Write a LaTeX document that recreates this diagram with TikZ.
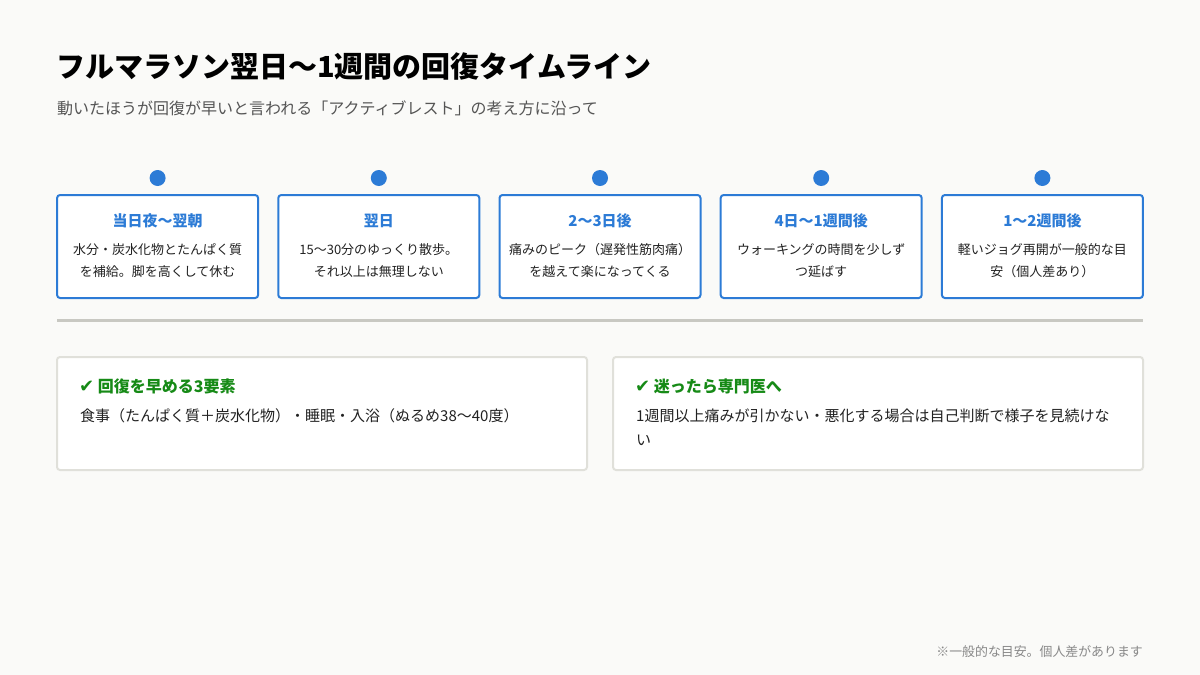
\documentclass[tikz,border=0pt]{standalone}
\usepackage{fontspec}
\setmainfont{Noto Sans CJK JP}
\newfontfamily\jp{Noto Sans CJK JP}
\newfontfamily\sym{DejaVu Sans}
\definecolor{bg}{HTML}{FAFAF8}
\definecolor{blue}{HTML}{2C7BD6}
\definecolor{ink}{HTML}{222222}
\definecolor{sub}{HTML}{555555}
\definecolor{foot}{HTML}{888888}
\definecolor{rule}{HTML}{C8C8C2}
\definecolor{cardline}{HTML}{E0E0DA}
\definecolor{okgreen}{HTML}{168A16}
\tikzset{
  dot/.style={circle,fill=blue,inner sep=0pt,minimum size=16pt},
  tbox/.style={rectangle,draw=blue,line width=2pt,rounded corners=3pt,fill=white,minimum width=201pt,minimum height=103pt,inner sep=0pt},
  ttl/.style={anchor=base,inner sep=0pt,text=blue,font=\jp\bfseries\fontsize{15}{18}\selectfont},
  tbody/.style={anchor=base,inner sep=0pt,text=ink,font=\jp\fontsize{13}{16}\selectfont},
  card/.style={rectangle,draw=cardline,line width=2pt,rounded corners=3pt,fill=white,minimum width=530pt,minimum height=113pt,inner sep=0pt},
  chead/.style={anchor=base west,inner sep=0pt,text=okgreen,font=\jp\bfseries\fontsize{16}{19}\selectfont},
  cbody/.style={anchor=base west,inner sep=0pt,text=ink,font=\jp\fontsize{15}{18}\selectfont},
}
\begin{document}
\begin{tikzpicture}[x=1pt,y=-1pt]
\path[fill=bg] (0,0) rectangle (1200,675);
\useasboundingbox (0,0) rectangle (1200,675);
% title
\node[anchor=base west,inner sep=0pt,text=black,font=\jp\bfseries\fontsize{29}{34}\selectfont] (title) at (56,77) {フルマラソン翌日〜1週間の回復タイムライン};
\node[anchor=base west,inner sep=0pt,text=sub,font=\jp\fontsize{16}{19}\selectfont] (subtitle) at (57,114) {動いたほうが回復が早いと言われる「アクティブレスト」の考え方に沿って};
% timeline
\foreach \i/\cx/\t/\la/\lb in {
 1/157.6/当日夜〜翌朝/水分・炭水化物とたんぱく質/を補給。脚を高くして休む,
 2/378.8/翌日/15〜30分のゆっくり散歩。/それ以上は無理しない,
 3/600/2〜3日後/痛みのピーク（遅発性筋肉痛）/を越えて楽になってくる,
 4/821.2/4日〜1週間後/ウォーキングの時間を少しず/つ延ばす,
 5/1042.4/1〜2週間後/軽いジョグ再開が一般的な目/安（個人差あり）}{
  \node[dot] (d\i) at (\cx,178) {};
  \node[tbox] (b\i) at (\cx,246.5) {};
  \node[ttl] (t\i) at (\cx,226.5) {\t};
  \node[tbody] (la\i) at (\cx,254) {\la};
  \node[tbody] (lb\i) at (\cx,276) {\lb};
}
% divider
\coordinate (hl) at (57,320);
\coordinate (hr) at (1143,320);
\draw[rule,line width=3pt] (hl) -- (hr);
% cards
\node[card] (c1) at (322,413.5) {};
\node[card] (c2) at (878,413.5) {};
\node[chead] (h1) at (79,392) {{\sym\bfseries\fontsize{18}{19}\selectfont ✔} 回復を早める3要素};
\node[cbody] (p1) at (80,421.5) {食事（たんぱく質＋炭水化物）・睡眠・入浴（ぬるめ38〜40度）};
\node[chead] (h2) at (635,392) {{\sym\bfseries\fontsize{18}{19}\selectfont ✔} 迷ったら専門医へ};
\node[cbody] (p2) at (636,421.5) {1週間以上痛みが引かない・悪化する場合は自己判断で様子を見続けな};
\node[cbody] (p3) at (636,445.5) {い};
% footer
\node[anchor=base east,inner sep=0pt,text=foot,font=\jp\fontsize{12.9}{15}\selectfont] (foot) at (1143,656) {※一般的な目安。個人差があります};
\end{tikzpicture}
\end{document}
